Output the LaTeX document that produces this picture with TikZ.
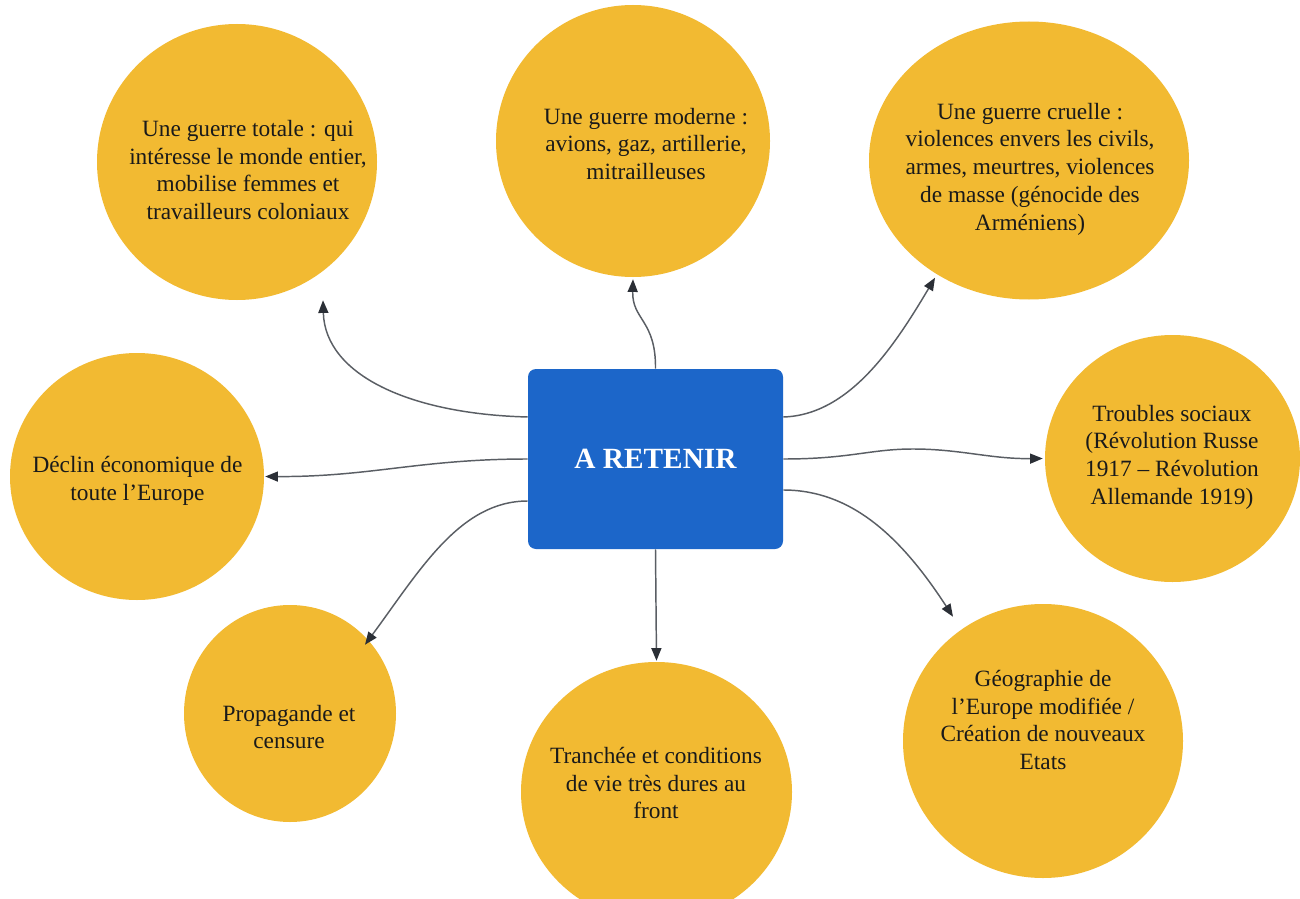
\documentclass[tikz,border=0pt]{standalone}
\usepackage{fontspec}
\setmainfont{Liberation Serif}
\usetikzlibrary{shapes.geometric,arrows.meta,calc}
\definecolor{blobc}{HTML}{F2BA32}
\definecolor{boxc}{HTML}{1C66C9}
\definecolor{linec}{HTML}{5A5E64}
\definecolor{tipc}{HTML}{2B2F36}
\definecolor{txtc}{HTML}{1A1A1A}
\begin{document}
\begin{tikzpicture}[x=0.75pt,y=-0.75pt,
  blob/.style={ellipse,fill=blobc,draw=none,inner sep=0pt},
  txt/.style={align=center,inner sep=0pt,text=txtc,font=\fontsize{17.5pt}{20.8pt}\selectfont},
  mainbox/.style={rectangle,rounded corners=6pt,fill=boxc,draw=none,minimum width=191.25pt,minimum height=135pt,text=white,font=\fontsize{22pt}{26pt}\selectfont\bfseries},
  conn/.style={draw=linec,line width=1.1pt,-{Triangle[length=9.5pt,width=7.5pt,color=tipc]}}
]
\useasboundingbox (0,0) rectangle (1300,899);
\fill[white] (0,0) rectangle (1300,899);

% ellipses
\node[blob,minimum width=210pt,minimum height=207pt] (e1) at (237,162) {};
\node[blob,minimum width=205.5pt,minimum height=204pt] (e2) at (633,141) {};
\node[blob,minimum width=240pt,minimum height=208.5pt] (e3) at (1029,160.5) {};
\node[blob,minimum width=191.25pt,minimum height=185.25pt] (e4) at (1172.5,458.5) {};
\node[blob,minimum width=190.5pt,minimum height=185.25pt] (e5) at (137,476.5) {};
\node[blob,minimum width=159pt,minimum height=162.75pt] (e6) at (290,713.5) {};
\node[blob,minimum width=203.25pt,minimum height=195pt] (e7) at (656.5,792) {};
\node[blob,minimum width=210pt,minimum height=205.5pt] (e8) at (1043,741) {};

% texts
\node[txt] (t1) at (248,170) {Une guerre totale : qui\\intéresse le monde entier,\\mobilise femmes et\\travailleurs coloniaux};
\node[txt] (t2) at (646,144) {Une guerre moderne :\\avions, gaz, artillerie,\\mitrailleuses};
\node[txt] (t3) at (1030,169) {Une guerre cruelle :\\violences envers les civils,\\armes, meurtres, violences\\de masse (génocide des\\Arméniens)};
\node[txt] (t4) at (1172,457) {Troubles sociaux\\(Révolution Russe\\1917 – Révolution\\Allemande 1919)};
\node[txt] (t5) at (137.5,481) {Déclin économique de\\toute l’Europe};
\node[txt] (t6) at (289,727) {Propagande et\\censure};
\node[txt] (t7) at (656,783) {Tranchée et conditions\\de vie très dures au\\front};
\node[txt] (t8) at (1043,720) {Géographie de\\l’Europe modifiée /\\Création de nouveaux\\Etats};

% central box
\node[mainbox] (r) at (655.5,459) {A RETENIR};

% arrow end points
\coordinate (a1) at ($(e1.south)+(86,0)$);
\coordinate (a2) at ($(e2.south)+(0,2)$);
\coordinate (a3) at ($(e3.south)+(-94,-22)$);
\coordinate (a4) at ($(e4.west)+(-2,0)$);
\coordinate (a5) at ($(e5.east)+(1,0)$);
\coordinate (a6) at ($(e6.north)+(75,40)$);
\coordinate (a7) at ($(e7.north)+(0,-1)$);
\coordinate (a8) at ($(e8.north)+(-90,13)$);

% connectors
\draw[conn] ($(r.west)+(0,-42)$) .. controls (410,414) and (325,375) .. (a1);
\draw[conn] (r.north) .. controls (656,320) and (632,320) .. (a2);
\draw[conn] ($(r.east)+(0,-42)$) .. controls (850,415) and (895,345) .. (a3);
\draw[conn] (r.east) .. controls (850,459) and (870,449) .. (913,449) .. controls (960,449) and (990,459) .. (a4);
\draw[conn] (r.west) .. controls (420,459) and (370,477) .. (a5);
\draw[conn] ($(r.west)+(0,42)$) .. controls (460,501) and (420,570) .. (a6);
\draw[conn] (r.south) -- (a7);
\draw[conn] ($(r.east)+(0,31)$) .. controls (850,490) and (900,535) .. (a8);
\end{tikzpicture}
\end{document}
